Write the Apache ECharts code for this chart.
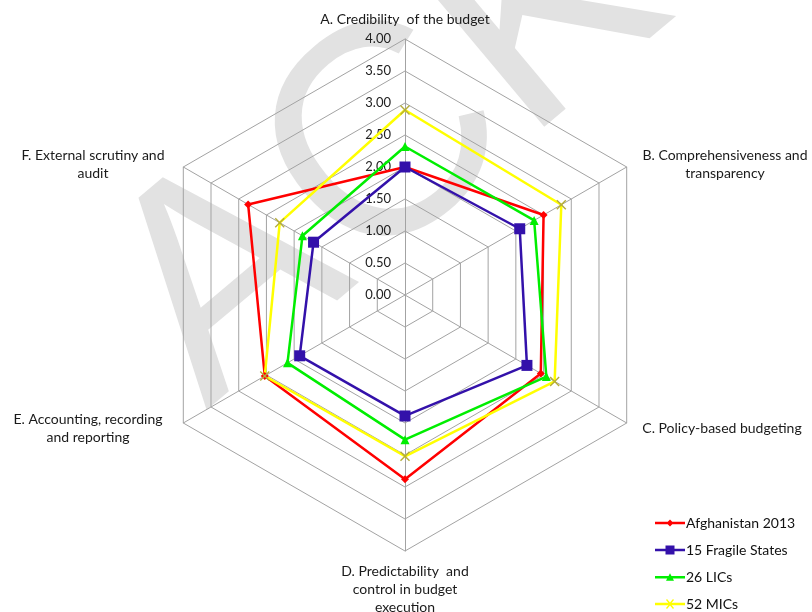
<!DOCTYPE html>
<html>
<head>
<meta charset="utf-8">
<script src="https://cdn.jsdelivr.net/npm/echarts@6/dist/echarts.min.js"></script>
<style>
html,body{margin:0;padding:0;background:#fff;}
#chart{width:812px;height:612px;}
</style>
</head>
<body>
<div id="chart"></div>
<script>
// Categories in clockwise order starting from top
var categories = [
  'A. Credibility  of the budget',
  'B. Comprehensiveness and\ntransparency',
  'C. Policy-based budgeting',
  'D. Predictability  and\ncontrol in budget\nexecution',
  'E. Accounting, recording\nand reporting',
  'F. External scrutiny and\naudit'
];
var seriesNames = ['Afghanistan 2013', '15 Fragile States', '26 LICs', '52 MICs'];
var afghanistan = [2.00, 2.50, 2.45, 2.88, 2.53, 2.83];
var fragile     = [2.00, 2.07, 2.20, 1.89, 1.90, 1.65];
var lics        = [2.32, 2.33, 2.55, 2.26, 2.12, 1.85];
var mics        = [2.89, 2.82, 2.70, 2.52, 2.53, 2.26];
var tickMin = 0, tickMax = 4, tickStep = 0.5;
var watermark = 'ACK';

// ECharts places indicators counter-clockwise; reorder to get clockwise layout
var order = [0, 5, 4, 3, 2, 1];
function reorder(arr) { return order.map(function (i) { return arr[i]; }); }

var colors = ['#ff0000', '#3311aa', '#00ee00', '#ffff00'];
var symbols = [
  'diamond',
  'rect',
  'triangle',
  'path://M0,1L1,0L5,4L9,0L10,1L6,5L10,9L9,10L5,6L1,10L0,9L4,5Z'
];
var symbolSizes = [8, 11, 9, 10];
var symbolColors = ['#ff0000', '#3311aa', '#00ee00', '#b5ad3a'];
var legendIcons = [
  'path://M0,4.8L30,4.8L30,7.2L0,7.2Z M15,2.5L18.5,6L15,9.5L11.5,6Z',
  'path://M0,4.8L30,4.8L30,7.2L0,7.2Z M10.5,1.5L19.5,1.5L19.5,10.5L10.5,10.5Z',
  'path://M0,4.8L30,4.8L30,7.2L0,7.2Z M15,2L19,9.5L11,9.5Z',
  'path://M0,4.8L30,4.8L30,7.2L0,7.2Z M11,2L12,1L15,4.5L18,1L19,2L16,5.5L16,6.5L19,10L18,11L15,7.5L12,11L11,10L14,6.5L14,5.5Z'
];
var allData = [afghanistan, fragile, lics, mics];

var cx = 405, cy = 295, R = 256;
var font = 'Lato';

// category name placements (text centers)
var namePos = [
  {x: 405, y: 19},
  {x: 725, y: 164},
  {x: 722, y: 428},
  {x: 405, y: 589},
  {x: 88, y: 428},
  {x: 93, y: 164}
];

var chart = echarts.init(document.getElementById('chart'));

var graphics = [{
  type: 'text', silent: true, z: -10,
  x: 153, y: 347, rotation: 40 * Math.PI / 180,
  style: {
    text: watermark, fill: '#e2e2e2',
    font: 'normal 300px "Liberation Sans"',
    textAlign: 'left', textVerticalAlign: 'middle'
  }
}];
categories.forEach(function (c, i) {
  graphics.push({
    type: 'text', silent: true,
    x: namePos[i].x, y: namePos[i].y,
    style: {
      text: c, fill: '#1a1a1a',
      font: '14px ' + font,
      lineHeight: 18,
      textAlign: 'center', textVerticalAlign: 'middle'
    }
  });
});

var option = {
  backgroundColor: '#fff',
  animation: false,
  graphic: graphics,
  legend: {
    orient: 'vertical',
    left: 655, top: 516, padding: 0, height: 120,
    itemWidth: 30, itemHeight: 12, itemGap: 13,
    textStyle: {fontFamily: font, fontSize: 14, lineHeight: 12, color: '#111', padding: [0, 0, 0, -4]},
    data: seriesNames.map(function (n, i) {
      return {name: n, icon: legendIcons[i], itemStyle: {color: colors[i]}};
    })
  },
  grid: {left: cx, top: cy - R, width: 1, height: R},
  xAxis: {type: 'value', show: false},
  yAxis: {
    type: 'value', min: tickMin, max: tickMax, interval: tickStep,
    axisLine: {show: false}, axisTick: {show: false}, splitLine: {show: false},
    axisLabel: {
      margin: 14, fontFamily: font, fontSize: 13, color: '#222',
      formatter: function (v) { return v.toFixed(2); }
    }
  },
  radar: {
    center: [cx, cy], radius: R, startAngle: 90, splitNumber: 8, shape: 'polygon',
    indicator: reorder(categories).map(function (n) { return {name: n, min: tickMin, max: tickMax}; }),
    axisName: {show: false},
    splitLine: {lineStyle: {color: '#a3a3a3', width: 1}},
    splitArea: {show: false},
    axisLine: {lineStyle: {color: '#a3a3a3', width: 1}},
    axisTick: {show: false}, axisLabel: {show: false}
  },
  series: seriesNames.map(function (n, i) {
    return {
      type: 'radar', name: n,
      symbol: symbols[i], symbolSize: symbolSizes[i],
      lineStyle: {color: colors[i], width: 2.5},
      itemStyle: {color: symbolColors[i]},
      data: [{name: n, value: reorder(allData[i])}]
    };
  })
};
chart.setOption(option);
</script>
</body>
</html>
